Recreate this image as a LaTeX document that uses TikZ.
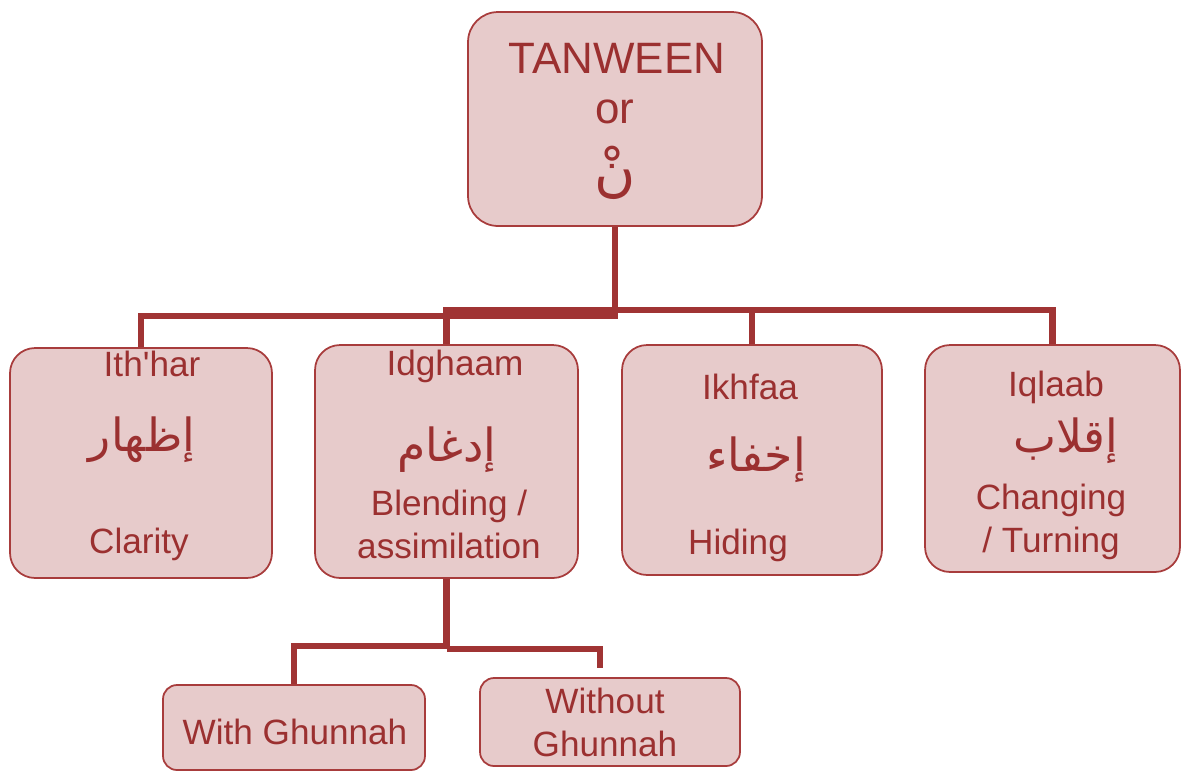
\documentclass[tikz,border=0pt]{standalone}
\usepackage{fontspec}
\setmainfont{Liberation Sans}
\newfontfamily\arabicfont[Script=Arabic]{DejaVu Sans}
\TeXXeTstate=1
\usetikzlibrary{positioning}
\definecolor{boxfill}{RGB}{231,203,203}
\definecolor{boxline}{RGB}{168,60,60}
\definecolor{linkred}{RGB}{160,52,52}
\definecolor{textred}{RGB}{155,48,48}

\begin{document}
\begin{tikzpicture}[x=0.02cm, y=-0.02cm,
		box/.style={draw=boxline, fill=boxfill, line width=1pt, rounded corners=0.5cm, inner sep=0pt},
		link/.style={draw=linkred, line width=3.6pt},
		lbl/.style={text=textred, font=\fontsize{20}{24.4}\selectfont, align=center, inner sep=0pt},
		arab/.style={text=textred, font=\arabicfont\fontsize{26}{30}\selectfont, inner sep=0pt}]
				
				\useasboundingbox (0,0) rectangle (1182,772);
				
				\node[box, minimum width=5.88cm, minimum height=4.28cm, rounded corners=0.6cm] (T) at (615,119) {};
				\node[lbl, font=\fontsize{25}{30}\selectfont] (T1) at (617,58) {TANWEEN};
				\node[lbl, font=\fontsize{25}{30}\selectfont] (T2) at (615,112) {or};
				\node[arab, font=\arabicfont\fontsize{32}{36}\selectfont] (T3) at (615,173) {\beginR نْ\endR};
				
				\node[box, minimum width=5.24cm, minimum height=4.6cm] (B1) at (141,463) {};
				\node[lbl] (E1) at (152,364) {Ith\textquotesingle har};
				\node[arab] (A1) at (142,440) {\beginR إظهار\endR};
				\node[lbl] (M1) at (139,544) {Clarity};
				
				\node[box, minimum width=5.26cm, minimum height=4.66cm] (B2) at (446.5,461.5) {};
				\node[lbl] (E2) at (455,366) {Idghaam};
				\node[arab] (A2) at (447,450) {\beginR إدغام\endR};
				\node[lbl] (M2) at (449,524) {Blending /\\assimilation};
				
				\node[box, minimum width=5.2cm, minimum height=4.6cm] (B3) at (752,460) {};
				\node[lbl] (E3) at (750,387) {Ikhfaa};
				\node[arab] (A3) at (756,460) {\beginR إخفاء\endR};
				\node[lbl] (M3) at (738,545) {Hiding};
				
				\node[box, minimum width=5.1cm, minimum height=4.54cm] (B4) at (1052.5,458.5) {};
				\node[lbl] (E4) at (1056,387) {Iqlaab};
				\node[arab] (A4) at (1066,441) {\beginR إقلاب\endR};
				\node[lbl] (M4) at (1051,522) {Changing\\/ Turning};
				
				\node[box, minimum width=5.24cm, minimum height=1.7cm, rounded corners=0.28cm] (W1) at (294,727.5) {};
				\node[lbl] (W1t) at (295,732) {With Ghunnah};
				
				\node[box, minimum width=5.2cm, minimum height=1.76cm, rounded corners=0.28cm] (W2) at (610,722) {};
				\node[lbl] (W2t) at (605,722) {Without\\Ghunnah};
				
				\draw[link] (T.south) -- ++(0,89) -| (B1.north);
				\draw[link] (B2.north) -- ++(0,-34) -| (B4.north);
				\draw[link] (B3.north) -- ++(0,-34);
				
				\draw[link] (B2.south) -- ++(0,67) -| (W1.north);
				\draw[link, shorten >=5pt] (B2.south) ++(0,70) -| ([xshift=-0.2cm]W2.north);
				
			\end{tikzpicture}
\end{document}
